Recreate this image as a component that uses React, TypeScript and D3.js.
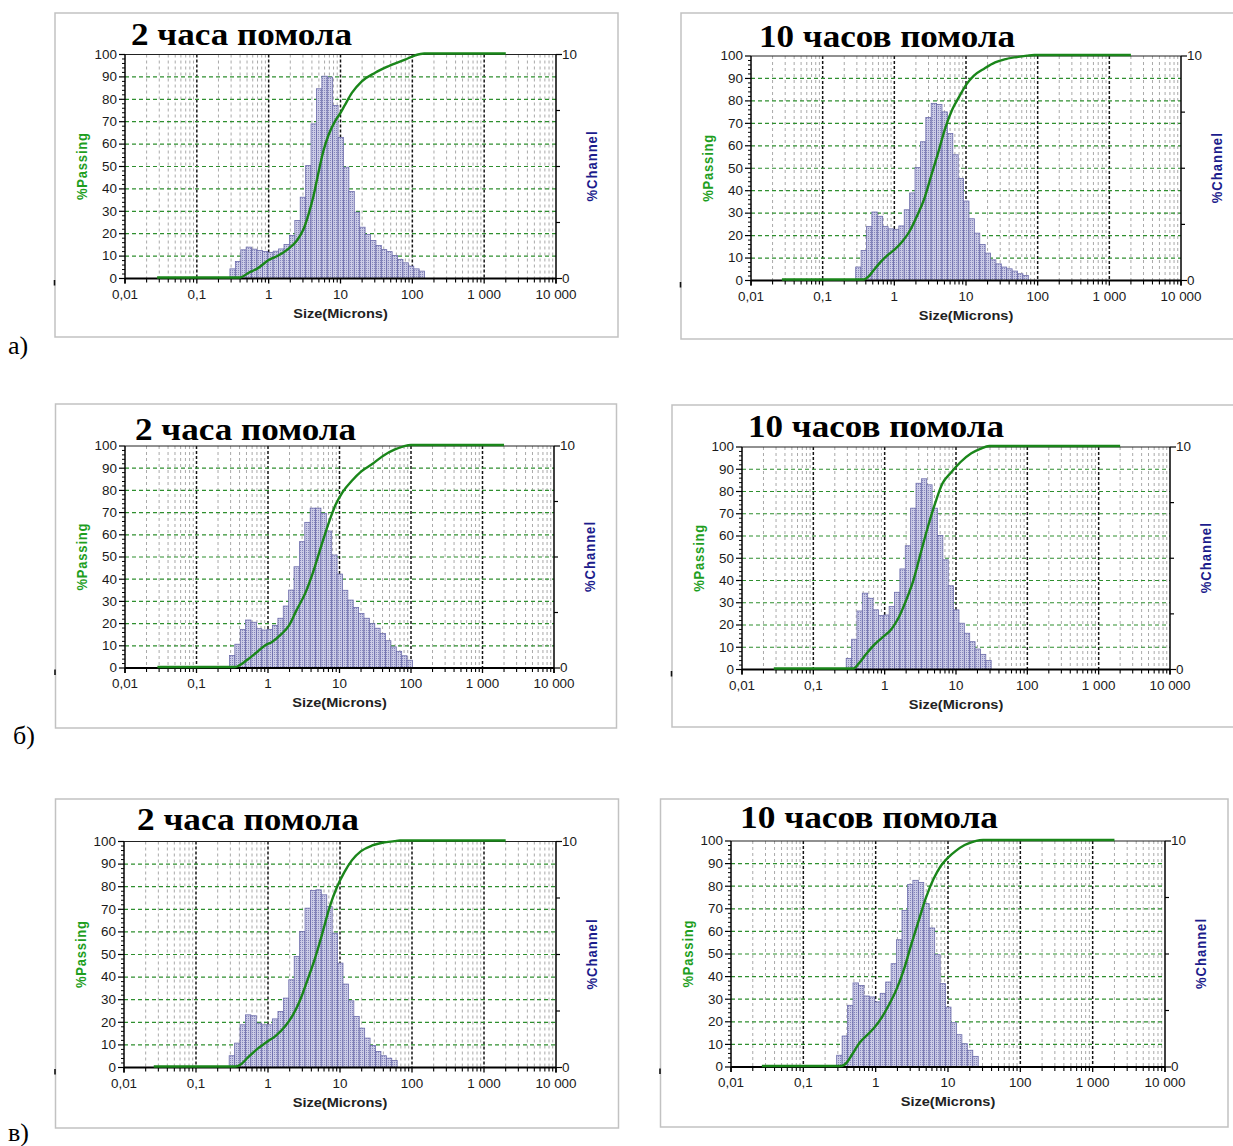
import React from "react";
import * as d3 from "d3";

// Size-class boundaries of the analyser, µm (geometric step 2^(1/4))
const SIZE_EDGES = [
  0.289, 0.344, 0.409, 0.486, 0.578, 0.688, 0.818, 0.972, 1.156, 1.375, 1.635,
  1.945, 2.312, 2.75, 3.27, 3.89, 4.62, 5.5, 6.54, 7.78, 9.25, 11, 13.08, 15.56,
  18.5, 22, 26.16, 31.11, 37, 44, 52.33, 62.23, 74, 88, 104.7, 124.5, 148,
];

// %Channel per size class, first class starts at 0.289 µm
const CHANNEL_A_2H = [
  0.43, 0.76, 1.28, 1.4, 1.31, 1.25, 1.21, 1.16, 1.22, 1.32, 1.52, 1.92, 2.59,
  3.63, 5.04, 6.9, 8.47, 9.03, 8.99, 7.72, 6.3, 4.97, 3.88, 2.96, 2.29, 1.96,
  1.7, 1.47, 1.29, 1.2, 1.03, 0.85, 0.7, 0.55, 0.43, 0.33,
];
const CHANNEL_A_10H = [
  0.6, 1.34, 2.4, 3.05, 2.86, 2.4, 2.3, 2.28, 2.43, 3.15, 3.9, 5.03, 6.18, 7.26,
  7.89, 7.84, 7.51, 6.55, 5.6, 4.54, 3.54, 2.75, 2.11, 1.6, 1.22, 0.92, 0.74,
  0.6, 0.52, 0.42, 0.3, 0.22,
];
const CHANNEL_B_2H = [
  0.56, 1.07, 1.74, 2.16, 2.06, 1.77, 1.71, 1.74, 1.92, 2.24, 2.79, 3.51, 4.56,
  5.69, 6.56, 7.2, 7.2, 6.97, 6.17, 5.09, 4.23, 3.5, 3.06, 2.73, 2.46, 2.24,
  2.01, 1.79, 1.56, 1.23, 0.95, 0.75, 0.55, 0.35,
];
const CHANNEL_B_10H = [
  0.5, 1.36, 2.63, 3.43, 3.2, 2.68, 2.42, 2.45, 2.83, 3.47, 4.52, 5.56, 7.25,
  8.37, 8.57, 8.3, 7.25, 6.02, 4.93, 3.76, 2.68, 2.08, 1.63, 1.25, 0.92, 0.68,
  0.4,
];
const CHANNEL_C_2H = [
  0.52, 1.08, 1.89, 2.33, 2.29, 1.96, 1.89, 1.89, 2.15, 2.48, 3.07, 3.88, 4.91,
  6.02, 7.05, 7.83, 7.86, 7.64, 7.12, 5.94, 4.62, 3.69, 2.95, 2.26, 1.74, 1.3,
  0.97, 0.71, 0.52, 0.41, 0.31,
];
const CHANNEL_C_10H = [
  0.52, 1.37, 2.73, 3.72, 3.61, 3.14, 3.1, 2.88, 3.26, 3.76, 4.57, 5.63, 6.93,
  8.07, 8.26, 8.16, 7.23, 6.15, 4.97, 3.69, 2.65, 1.96, 1.43, 1.03, 0.74, 0.47,
];

// %Passing (cumulative) as [size µm, percent]
const PASSING_A_2H: [number, number][] = [
  [0.028, 0], [0.4, 0], [0.52, 2], [0.72, 4.3], [1.0, 7.8], [1.36, 9.8],
  [1.88, 12.8], [2.46, 16.4], [3.04, 21.4], [3.57, 28], [4.2, 36.3],
  [4.92, 46.7], [5.78, 56.5], [6.79, 63.5], [8.41, 69.8], [10, 73.5],
  [11.6, 77.2], [14.4, 82.4], [19.8, 87.6], [30.3, 91.4], [46.5, 94.3],
  [79.4, 97.3], [110, 99.2], [146, 100], [2000, 100],
];
const PASSING_A_10H: [number, number][] = [
  [0.027, 0], [0.372, 0], [0.443, 1.5], [0.525, 4.5], [0.66, 8.2],
  [0.83, 11.2], [1.04, 13.7], [1.31, 17.1], [1.64, 21.6], [2.07, 28.3],
  [2.6, 35.7], [3.26, 46.1], [4.09, 56.5], [5.16, 67.7], [6.48, 75.9],
  [8.15, 81.8], [10.2, 87], [12.9, 90.8], [18.1, 94], [25.5, 96.7], [36, 98.2],
  [56.9, 99.3], [71.3, 99.7], [89.7, 100], [2000, 100],
];
const PASSING_B_2H: [number, number][] = [
  [0.0284, 0], [0.347, 0], [0.392, 0.6], [0.497, 2.9], [0.67, 6.2],
  [0.9, 9.6], [1.15, 11.4], [1.55, 14.9], [1.96, 18.6], [2.49, 25.4],
  [3.36, 33.6], [4.26, 42.6], [5.4, 53.2], [6.86, 63.7], [8.71, 72.7],
  [11.0, 78.7], [14.9, 83.9], [20, 88], [28.7, 91.4], [41, 95.2], [58.6, 97.9],
  [79, 99.4], [100, 100], [2000, 100],
];
const PASSING_B_10H: [number, number][] = [
  [0.0279, 0], [0.365, 0], [0.434, 2.3], [0.55, 6.5], [0.695, 10.3],
  [0.93, 14], [1.25, 17.8], [1.58, 23], [1.99, 30.5], [2.52, 39.5],
  [3.18, 51.5], [4.02, 63.5], [5.07, 74], [6.42, 83], [8.59, 88.2],
  [11.5, 92.7], [16.4, 96.7], [21.9, 98.7], [29.4, 100], [2000, 100],
];
const PASSING_C_2H: [number, number][] = [
  [0.0259, 0], [0.35, 0], [0.418, 0.9], [0.53, 4.1], [0.713, 7.8],
  [0.96, 10.8], [1.29, 13.7], [1.73, 17.8], [2.2, 22.6], [2.78, 29.2],
  [3.52, 38.1], [4.47, 47.6], [5.66, 58.7], [7.17, 70.5], [9.08, 79.4],
  [11.5, 86], [14.6, 91.2], [19.6, 95.3], [28, 97.8], [39.9, 99.1], [57, 99.7],
  [68, 100], [2000, 100],
];
const PASSING_C_10H: [number, number][] = [
  [0.0267, 0], [0.333, 0], [0.398, 1.5], [0.474, 5.2], [0.6, 10.3],
  [0.76, 13.7], [0.96, 17], [1.21, 21.4], [1.54, 27.3], [1.94, 33.9],
  [2.46, 42.8], [3.11, 53.8], [3.92, 64.2], [4.96, 74.5], [6.28, 82.6],
  [7.95, 88.5], [10, 92.2], [12.7, 95.1], [17, 97.8], [21.5, 99.1],
  [27.3, 99.9], [30.6, 100], [2000, 100],
];

const X_TICK_VALUES = [0.01, 0.1, 1, 10, 100, 1000, 10000];
const X_TICK_LABELS = ["0,01", "0,1", "1", "10", "100", "1 000", "10 000"];
const Y_TICK_VALUES = [0, 10, 20, 30, 40, 50, 60, 70, 80, 90, 100];
const Y_GRID_VALUES = [10, 20, 30, 40, 50, 60, 70, 80, 90];
const RIGHT_TICK_VALUES = [0, 2.5, 5, 7.5, 10];
const RIGHT_TICK_LABELS = ["0", "10"];

const TITLE_2H = "2 часа помола";
const TITLE_10H = "10 часов помола";
const ROW_LABELS = ["а)", "б)", "в)"];
const X_TITLE = "Size(Microns)";
const Y_LEFT_TITLE = "%Passing";
const Y_RIGHT_TITLE = "%Channel";

type Box = { l: number; t: number; r: number; b: number };
type Layout = {
  frame: { x: number; y: number; w: number; h: number };
  plot: Box;
  title: { x: number; y: number; len: number };
};

const PANELS: {
  layout: Layout;
  title: string;
  channels: number[];
  passing: [number, number][];
}[] = [
  {
    layout: {
      frame: { x: 55, y: 13, w: 563, h: 324 },
      plot: { l: 125, t: 54.5, r: 556, b: 278.5 },
      title: { x: 131, y: 45, len: 221 },
    },
    title: TITLE_2H,
    channels: CHANNEL_A_2H,
    passing: PASSING_A_2H,
  },
  {
    layout: {
      frame: { x: 681, y: 13, w: 570, h: 326 },
      plot: { l: 751, t: 56, r: 1181, b: 280.5 },
      title: { x: 759, y: 47, len: 256 },
    },
    title: TITLE_10H,
    channels: CHANNEL_A_10H,
    passing: PASSING_A_10H,
  },
  {
    layout: {
      frame: { x: 55.5, y: 404, w: 561, h: 324 },
      plot: { l: 125, t: 446, r: 554, b: 668 },
      title: { x: 135, y: 440, len: 221 },
    },
    title: TITLE_2H,
    channels: CHANNEL_B_2H,
    passing: PASSING_B_2H,
  },
  {
    layout: {
      frame: { x: 672, y: 405, w: 580, h: 322 },
      plot: { l: 742, t: 447, r: 1170, b: 669.5 },
      title: { x: 748, y: 437, len: 256 },
    },
    title: TITLE_10H,
    channels: CHANNEL_B_10H,
    passing: PASSING_B_10H,
  },
  {
    layout: {
      frame: { x: 55.5, y: 799, w: 563, h: 329 },
      plot: { l: 124, t: 841.5, r: 556, b: 1067.5 },
      title: { x: 137, y: 830, len: 222 },
    },
    title: TITLE_2H,
    channels: CHANNEL_C_2H,
    passing: PASSING_C_2H,
  },
  {
    layout: {
      frame: { x: 660.5, y: 799, w: 567.5, h: 328 },
      plot: { l: 731, t: 841, r: 1165, b: 1067 },
      title: { x: 740, y: 828, len: 258 },
    },
    title: TITLE_10H,
    channels: CHANNEL_C_10H,
    passing: PASSING_C_10H,
  },
];

const ROW_LABEL_POS = [
  { x: 8, y: 354 },
  { x: 13, y: 744 },
  { x: 8, y: 1141 },
];

const SANS = "'Liberation Sans', Arial, sans-serif";
const SERIF = "'Liberation Serif', 'Times New Roman', serif";
const SX = 1.12;

const MINOR_X: number[] = [];
for (const d of [0.01, 0.1, 1, 10, 100, 1000]) {
  for (let m = 2; m <= 9; m++) MINOR_X.push(m * d);
}
const MINOR_Y = d3.range(0, 101, 2).filter((v) => v % 10 !== 0);

function Panel({
  layout,
  title,
  channels,
  passing,
}: {
  layout: Layout;
  title: string;
  channels: number[];
  passing: [number, number][];
}) {
  const { plot, frame } = layout;
  const x = d3.scaleLog().domain([0.01, 10000]).range([plot.l, plot.r]);
  const yL = d3.scaleLinear().domain([0, 100]).range([plot.b, plot.t]);
  const yR = d3.scaleLinear().domain([0, 10]).range([plot.b, plot.t]);
  const line = d3
    .line<[number, number]>()
    .x((d) => x(d[0]))
    .y((d) => yL(d[1]) - 1)
    .curve(d3.curveMonotoneX);
  const cx = (plot.l + plot.r) / 2;
  const cy = (plot.t + plot.b) / 2;

  return (
    <g>
      <rect
        x={frame.x}
        y={frame.y}
        width={frame.w}
        height={frame.h}
        fill="#fff"
        stroke="#c2c2c2"
        strokeWidth={1.5}
      />
      <line
        x1={frame.x - 0.5}
        x2={frame.x - 0.5}
        y1={plot.b + 1.5}
        y2={plot.b + 7}
        stroke="#111"
        strokeWidth={1.6}
      />

      {/* title */}
      <text
        x={layout.title.x}
        y={layout.title.y}
        fontFamily={SERIF}
        fontWeight="bold"
        fontSize={32}
        textLength={layout.title.len}
        lengthAdjust="spacingAndGlyphs"
        fill="#000"
      >
        {title}
      </text>

      {/* minor vertical grid */}
      {MINOR_X.map((v) => (
        <line
          key={"mx" + v}
          x1={x(v)}
          x2={x(v)}
          y1={plot.t}
          y2={plot.b}
          stroke="#a9a9a9"
          strokeWidth={1}
          strokeDasharray="3,3"
        />
      ))}
      {/* decade grid */}
      {X_TICK_VALUES.slice(1, -1).map((v) => (
        <line
          key={"gx" + v}
          x1={x(v)}
          x2={x(v)}
          y1={plot.t}
          y2={plot.b}
          stroke="#151515"
          strokeWidth={1.5}
          strokeDasharray="3,2"
        />
      ))}
      {/* horizontal grid */}
      {Y_GRID_VALUES.map((v) => (
        <line
          key={"gy" + v}
          x1={plot.l}
          x2={plot.r}
          y1={yL(v)}
          y2={yL(v)}
          stroke="#2f8f2f"
          strokeWidth={1.2}
          strokeDasharray="4,3"
        />
      ))}

      {/* histogram */}
      {channels.map((v, i) => {
        const x0 = x(SIZE_EDGES[i]);
        const x1 = x(SIZE_EDGES[i + 1]);
        return (
          <rect
            key={"b" + i}
            x={x0}
            y={yR(v)}
            width={x1 - x0}
            height={plot.b - yR(v)}
            fill="url(#barFill)"
            stroke="#6c6caa"
            strokeWidth={0.8}
          />
        );
      })}

      {/* axes */}
      <line x1={plot.l} x2={plot.r} y1={plot.t} y2={plot.t} stroke="#222" strokeWidth={1} />
      <line x1={plot.l} x2={plot.l} y1={plot.t} y2={plot.b + 5} stroke="#000" strokeWidth={1.5} />
      <line x1={plot.r} x2={plot.r} y1={plot.t} y2={plot.b + 5} stroke="#000" strokeWidth={1.5} />
      <line x1={plot.l} x2={plot.r} y1={plot.b} y2={plot.b} stroke="#000" strokeWidth={1.8} />

      {/* left ticks */}
      {Y_TICK_VALUES.map((v) => (
        <g key={"yt" + v}>
          <line x1={plot.l - 6} x2={plot.l} y1={yL(v)} y2={yL(v)} stroke="#000" strokeWidth={1.2} />
          <text
            transform={`translate(${plot.l - 8},${yL(v) + 4.3}) scale(${SX},1)`}
            textAnchor="end"
            fontFamily={SANS}
            fontSize={12}
            fill="#1a1a1a"
          >
            {v}
          </text>
        </g>
      ))}
      {MINOR_Y.map((v) => (
        <line key={"ym" + v} x1={plot.l - 3} x2={plot.l} y1={yL(v)} y2={yL(v)} stroke="#000" strokeWidth={1} />
      ))}

      {/* right ticks */}
      {RIGHT_TICK_VALUES.map((v) => {
        const major = v === 0 || v === 10;
        return (
          <line
            key={"rt" + v}
            x1={plot.r}
            x2={plot.r + (major ? 6 : 4)}
            y1={yR(v)}
            y2={yR(v)}
            stroke="#000"
            strokeWidth={1.2}
          />
        );
      })}
      {[0, 10].map((v, i) => (
        <text
          key={"rl" + v}
          transform={`translate(${plot.r + 6},${yR(v) + 4.3}) scale(${SX},1)`}
          fontFamily={SANS}
          fontSize={12}
          fill="#1a1a1a"
        >
          {RIGHT_TICK_LABELS[i]}
        </text>
      ))}

      {/* bottom ticks */}
      {MINOR_X.map((v) => (
        <line key={"xm" + v} x1={x(v)} x2={x(v)} y1={plot.b} y2={plot.b + 4} stroke="#000" strokeWidth={1.1} />
      ))}
      {X_TICK_VALUES.map((v, i) => (
        <g key={"xt" + v}>
          <line x1={x(v)} x2={x(v)} y1={plot.b} y2={plot.b + 5} stroke="#000" strokeWidth={1.3} />
          <text
            transform={`translate(${x(v)},${plot.b + 20}) scale(${SX},1)`}
            textAnchor="middle"
            fontFamily={SANS}
            fontSize={12}
            fill="#1a1a1a"
          >
            {X_TICK_LABELS[i]}
          </text>
        </g>
      ))}

      {/* cumulative curve */}
      <path d={line(passing) || ""} fill="none" stroke="#1a861a" strokeWidth={2.4} strokeLinejoin="round" />

      {/* axis titles */}
      <text
        transform={`translate(${cx},${plot.b + 39}) scale(${SX},1)`}
        textAnchor="middle"
        fontFamily={SANS}
        fontWeight="bold"
        fontSize={13}
        fill="#222"
      >
        {X_TITLE}
      </text>
      <text
        transform={`translate(${plot.l - 43},${cy}) scale(${SX},1) rotate(-90)`}
        textAnchor="middle"
        dominantBaseline="central"
        fontFamily={SANS}
        fontWeight="bold"
        fontSize={13}
        textLength={67}
        lengthAdjust="spacing"
        fill="#1e9e1e"
      >
        {Y_LEFT_TITLE}
      </text>
      <text
        transform={`translate(${plot.r + 36},${cy}) scale(${SX},1) rotate(-90)`}
        textAnchor="middle"
        dominantBaseline="central"
        fontFamily={SANS}
        fontWeight="bold"
        fontSize={13}
        textLength={70}
        lengthAdjust="spacing"
        fill="#1c1c8c"
      >
        {Y_RIGHT_TITLE}
      </text>
    </g>
  );
}

export default function App() {
  return (
    <svg
      width={1233}
      height={1146}
      viewBox="0 0 1233 1146"
      style={{ position: "absolute", left: 0, top: 0, background: "#fff" }}
    >
      <defs>
        <pattern id="barFill" width={2} height={2} patternUnits="userSpaceOnUse">
          <rect width={2} height={2} fill="#cbcbe6" />
          <rect width={1} height={1} fill="#8585bb" />
        </pattern>
      </defs>
      <rect width={1233} height={1146} fill="#fff" />
      {PANELS.map((p, i) => (
        <Panel key={i} layout={p.layout} title={p.title} channels={p.channels} passing={p.passing} />
      ))}
      {ROW_LABELS.map((t, i) => (
        <text
          key={t}
          x={ROW_LABEL_POS[i].x}
          y={ROW_LABEL_POS[i].y}
          fontFamily={SERIF}
          fontSize={26}
          fill="#000"
        >
          {t}
        </text>
      ))}
    </svg>
  );
}
